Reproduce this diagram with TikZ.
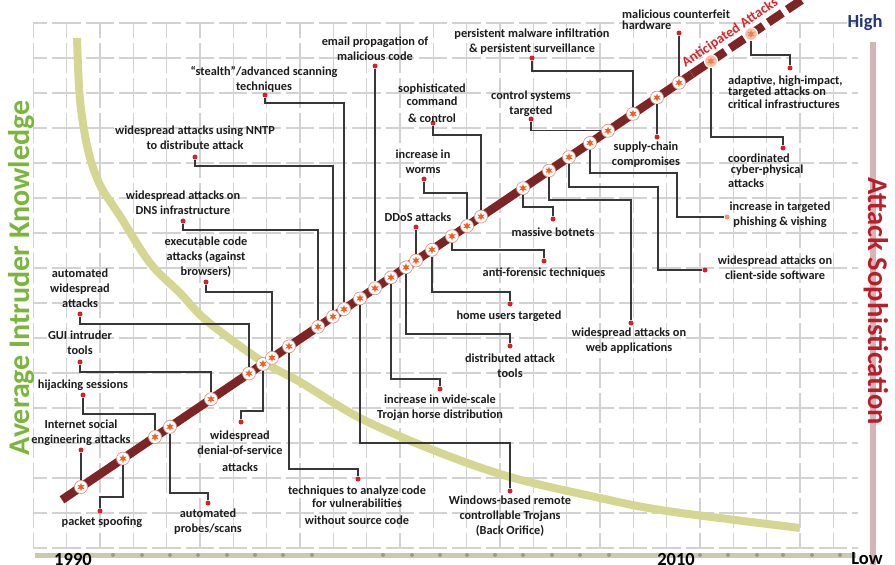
\documentclass[tikz,border=0pt]{standalone}
\usepackage{fontspec}
\setmainfont{Carlito}
\usetikzlibrary{shapes.geometric,calc}
\definecolor{gridc}{RGB}{210,210,210}
\definecolor{linered}{RGB}{125,36,36}
\definecolor{curvec}{RGB}{212,214,145}
\definecolor{axisc}{RGB}{204,202,174}
\definecolor{axisdot}{RGB}{155,155,140}
\definecolor{dotred}{RGB}{220,30,40}
\definecolor{connc}{RGB}{55,55,55}
\definecolor{starc}{RGB}{240,95,35}
\definecolor{ringc}{RGB}{222,150,135}
\definecolor{greenk}{RGB}{122,182,60}
\definecolor{sophred}{RGB}{185,30,40}
\definecolor{sophbar}{RGB}{212,180,182}
\definecolor{highblue}{RGB}{35,55,120}
\definecolor{anticred}{RGB}{225,35,40}
\definecolor{lbltext}{RGB}{28,28,28}
\definecolor{peach}{RGB}{240,150,110}
\newcommand\lblfont{\fontsize{12.3}{15}\selectfont\bfseries}
\begin{document}
\begin{tikzpicture}[x=1pt,y=-1pt,
  lbl/.style={font=\lblfont, align=center, inner sep=0pt, text=lbltext},
  lbll/.style={font=\lblfont, align=left, inner sep=0pt, text=lbltext, anchor=west},
  rdot/.style={circle, fill=dotred, minimum size=5pt, inner sep=0pt},
  conn/.style={draw=connc, line width=1.1pt},
  chainnode/.style={circle, draw=ringc, line width=0.7pt, fill=white, minimum size=13pt, inner sep=0pt},
  chainnodeb/.style={circle, draw=white, line width=1.2pt, fill=peach!60, minimum size=13pt, inner sep=0pt},
  starmark/.style={star, star points=6, star point ratio=2.3, fill=starc, minimum size=8.5pt, inner sep=0pt},
  gridline/.style={draw=gridc, line width=1.1pt},
]
\useasboundingbox (0,0) rectangle (895,565);
\clip (0,0) rectangle (895,565);
\fill[white] (0,0) rectangle (895,565);
% grid
\foreach \k in {1,...,25}
  \draw[gridline, dash pattern=on 30pt off 5pt, dash phase=15pt] ({33.333*\k},23) -- ({33.333*\k},548);
\foreach \k in {0,...,15}
  \draw[gridline, dash pattern=on 28.33pt off 5pt, dash phase=14.17pt] (33.333,{23+35*\k}) -- (858,{23+35*\k});
% knowledge curve
\draw[curvec, line width=8pt] plot[smooth, tension=0.55] coordinates {(77,38) (80,100) (88,150) (100,185) (120,216) (150,263) (180,293) (207,321) (260,360) (300,382) (360,418) (433,450) (510,477) (600,498) (667,511) (800,528)};
% bottom axis
\draw[axisc, line width=5pt] (35,555) -- (856,555);
\foreach \x in {113,142,170,198,227,255,283,312,383,412,440,467,495,523,552,580,609,700,728,757,783,812,840}
  \fill[axisdot] (\x,555) circle (2pt);
% right axis
\draw[sophbar, line width=6pt] (873,42) -- (873,570);
\node[rotate=90, text=greenk, font=\fontsize{30}{34}\selectfont\bfseries, inner sep=0pt] (ylab) at (22,278) {Average Intruder Knowledge};
\node[rotate=-90, text=sophred, font=\fontsize{28.5}{32}\selectfont\bfseries, inner sep=0pt] (yrlab) at (876,301) {Attack Sophistication};
\node[font=\fontsize{18.5}{22}\selectfont\bfseries, text=highblue, inner sep=0pt] (high) at (865,23) {High};
\node[font=\fontsize{18.5}{22}\selectfont\bfseries, text=black, inner sep=0pt] (low) at (867,559) {Low};
\node[font=\fontsize{18.5}{22}\selectfont\bfseries, text=black, inner sep=0pt] (y1990) at (73,559) {1990};
\node[font=\fontsize{18.5}{22}\selectfont\bfseries, text=black, inner sep=0pt] (y2010) at (676,559) {2010};
% main line
\coordinate (L0) at (62,499.8);
\coordinate (L1) at (692,74);
\coordinate (L2) at (812,-7.1);
\draw[linered, line width=8.5pt] (L0) -- (L1);
\draw[white, line width=15pt] (L1) -- (L2);
\draw[linered, line width=8.5pt, dash pattern=on 17pt off 6pt] (L1) -- (L2);
\node[rotate=34, text=anticred, font=\fontsize{14}{16}\selectfont\bfseries, inner sep=0pt] (antic) at (730,33) {Anticipated Attacks};
% chain nodes
\foreach \i/\x in {1/81,2/123,3/155,4/170,5/211,6/249,7/263,8/272,9/289,10/318,11/333,12/344,13/360,14/375,15/391,16/406,17/416,18/432,19/452,20/467,21/481,22/523,23/549,24/569,25/590,26/608,27/633,28/657,29/679}
  {\node[chainnode] (n\i) at (\x,{487-0.676*(\x-81)}) {};
   \node[starmark] at (n\i) {};}
\foreach \i/\x in {30/711,31/751}
  {\node[chainnodeb] (n\i) at (\x,{487-0.676*(\x-81)}) {};
   \node[starmark, fill=starc!80] at (n\i) {};}
% red dots
\node[rdot] (d1) at (81,450) {};
\node[rdot] (d2) at (100,511) {};
\node[rdot] (d3) at (83,395) {};
\node[rdot] (d4) at (208,503) {};
\node[rdot] (d5) at (80,362) {};
\node[rdot] (d6) at (80,314) {};
\node[rdot] (d7) at (241,422) {};
\node[rdot] (d8) at (206,282) {};
\node[rdot] (d9) at (358,479) {};
\node[rdot] (d10) at (183,221) {};
\node[rdot] (d11) at (195,157) {};
\node[rdot] (d12) at (265,95) {};
\node[rdot] (d13) at (510,491) {};
\node[rdot] (d14) at (375,66) {};
\node[rdot] (d15) at (440,389) {};
\node[rdot] (d16) at (510,346) {};
\node[rdot] (d17) at (416,227) {};
\node[rdot] (d18) at (510,304) {};
\node[rdot] (d19) at (544,261) {};
\node[rdot] (d20) at (424,179) {};
\node[rdot] (d21) at (433,123) {};
\node[rdot] (d22) at (553,219) {};
\node[rdot] (d23) at (631,323) {};
\node[rdot] (d24) at (705,270) {};
\node[rdot, fill=peach] (d25) at (727,217) {};
\node[rdot] (d26) at (531,119) {};
\node[rdot] (d27) at (532,58) {};
\node[rdot] (d28) at (657,137) {};
\node[rdot] (d29) at (679,33) {};
\node[rdot] (d30) at (783,148) {};
\node[rdot] (d31) at (790,68) {};
% connectors
\draw[conn] (d1) -- (n1);
\draw[conn] (d2) |- (123,497) -- (n2);
\draw[conn] (d3) |- (155,414) -- (n3);
\draw[conn] (d4) |- (170,493) -- (n4);
\draw[conn] (d5) |- (211,372) -- (n5);
\draw[conn] (d6) |- (249,324) -- (n6);
\draw[conn] (d7) |- (263,411) -- (n7);
\draw[conn] (d8) |- (272,292) -- (n8);
\draw[conn] (d9) |- (289,469) -- (n9);
\draw[conn] (d10) |- (318,230) -- (n10);
\draw[conn] (d11) |- (333,166) -- (n11);
\draw[conn] (d12) |- (344,103) -- (n12);
\draw[conn] (d13) |- (360,443) -- (n13);
\draw[conn] (d14) -- (n14);
\draw[conn] (d15) |- (391,379) -- (n15);
\draw[conn] (d16) |- (406,334) -- (n16);
\draw[conn] (d17) -- (n17);
\draw[conn] (d18) |- (432,292) -- (n18);
\draw[conn] (d19) |- (452,250) -- (n19);
\draw[conn] (d20) |- (467,193) -- (n20);
\draw[conn] (d21) |- (481,135) -- (n21);
\draw[conn] (d22) |- (523,207) -- (n22);
\draw[conn] (n23) |- (631,200) -- (d23);
\draw[conn] (n24) |- (658,187) |- (d24);
\draw[conn] (n25) |- (677,173) |- (d25);
\draw[conn] (d26) |- (n26);
\draw[conn] (d27) |- (633,71) -- (n27);
\draw[conn] (d28) -- (n28);
\draw[conn] (d29) -- (n29);
\draw[conn] (d30) |- (711,137) -- (n30);
\draw[conn] (d31) |- (751,55) -- (n31);
% labels
\node[lbl] (l1) at (81,432.5) {Internet social\\engineering attacks};
\node[lbl] (l2) at (102,522) {packet spoofing};
\node[lbl] (l3) at (83,385) {hijacking sessions};
\node[lbl] (l4) at (208,521.5) {automated\\probes/scans};
\node[lbl] (l5) at (80,342.5) {GUI intruder\\tools};
\node[lbl] (l6) at (80,288.5) {automated\\widespread\\attacks};
\node[lbl] (l7) at (240,451) {widespread\\denial-of-service\\[2pt]attacks};
\node[lbl] (l8) at (206,257) {executable code\\attacks (against\\browsers)};
\node[lbl] (l9) at (357,505.5) {techniques to analyze code\\[-2pt]for vulnerabilities\\[2pt]without source code};
\node[lbl] (l10) at (183,202.5) {widespread attacks on\\DNS infrastructure};
\node[lbl] (l11) at (195,137.5) {widespread attacks using NNTP\\to distribute attack};
\node[lbl] (l12) at (264,79.5) {“stealth”/advanced scanning\\techniques};
\node[lbl] (l13) at (510,516) {Windows-based remote\\controllable Trojans\\(Back Orifice)};
\node[lbl] (l14) at (375,49) {email propagation of\\malicious code};
\node[lbl] (l15) at (440,408) {increase in wide-scale\\Trojan horse distribution};
\node[lbl] (l16) at (510,365.5) {distributed attack\\tools};
\node[lbl] (l17) at (418,217) {DDoS attacks};
\node[lbl] (l18) at (509,316) {home users targeted};
\node[lbl] (l19) at (544,273) {anti-forensic techniques};
\node[lbl] (l20) at (423,161.5) {increase in\\worms};
\node[lbl] (l21) at (432,103) {sophisticated\\[-2pt]command\\[2pt]\& control};
\node[lbl] (l22) at (553,232) {massive botnets};
\node[lbl] (l23) at (629,340.5) {widespread attacks on\\web applications};
\node[lbl] (l24) at (775,267.5) {widespread attacks on\\client-side software};
\node[lbl] (l25) at (780,214.5) {increase in targeted\\phishing \& vishing};
\node[lbl] (l26) at (531,104) {control systems\\targeted};
\node[lbl] (l27) at (532,41.5) {persistent malware infiltration\\\& persistent surveillance};
\node[lbl] (l28) at (646,154.5) {supply-chain\\compromises};
\node[lbll] (l29) at (622,19.5) {malicious counterfeit\\[-4.3pt]hardware};
\node[lbll] (l30) at (728,170.5) {coordinated\\[-3.7pt]\ cyber-physical\\[-1.3pt]attacks};
\node[lbll] (l31) at (728,92) {adaptive, high-impact,\\[-4pt]targeted attacks on\\[-2pt]critical infrastructures};
\end{tikzpicture}
\end{document}
